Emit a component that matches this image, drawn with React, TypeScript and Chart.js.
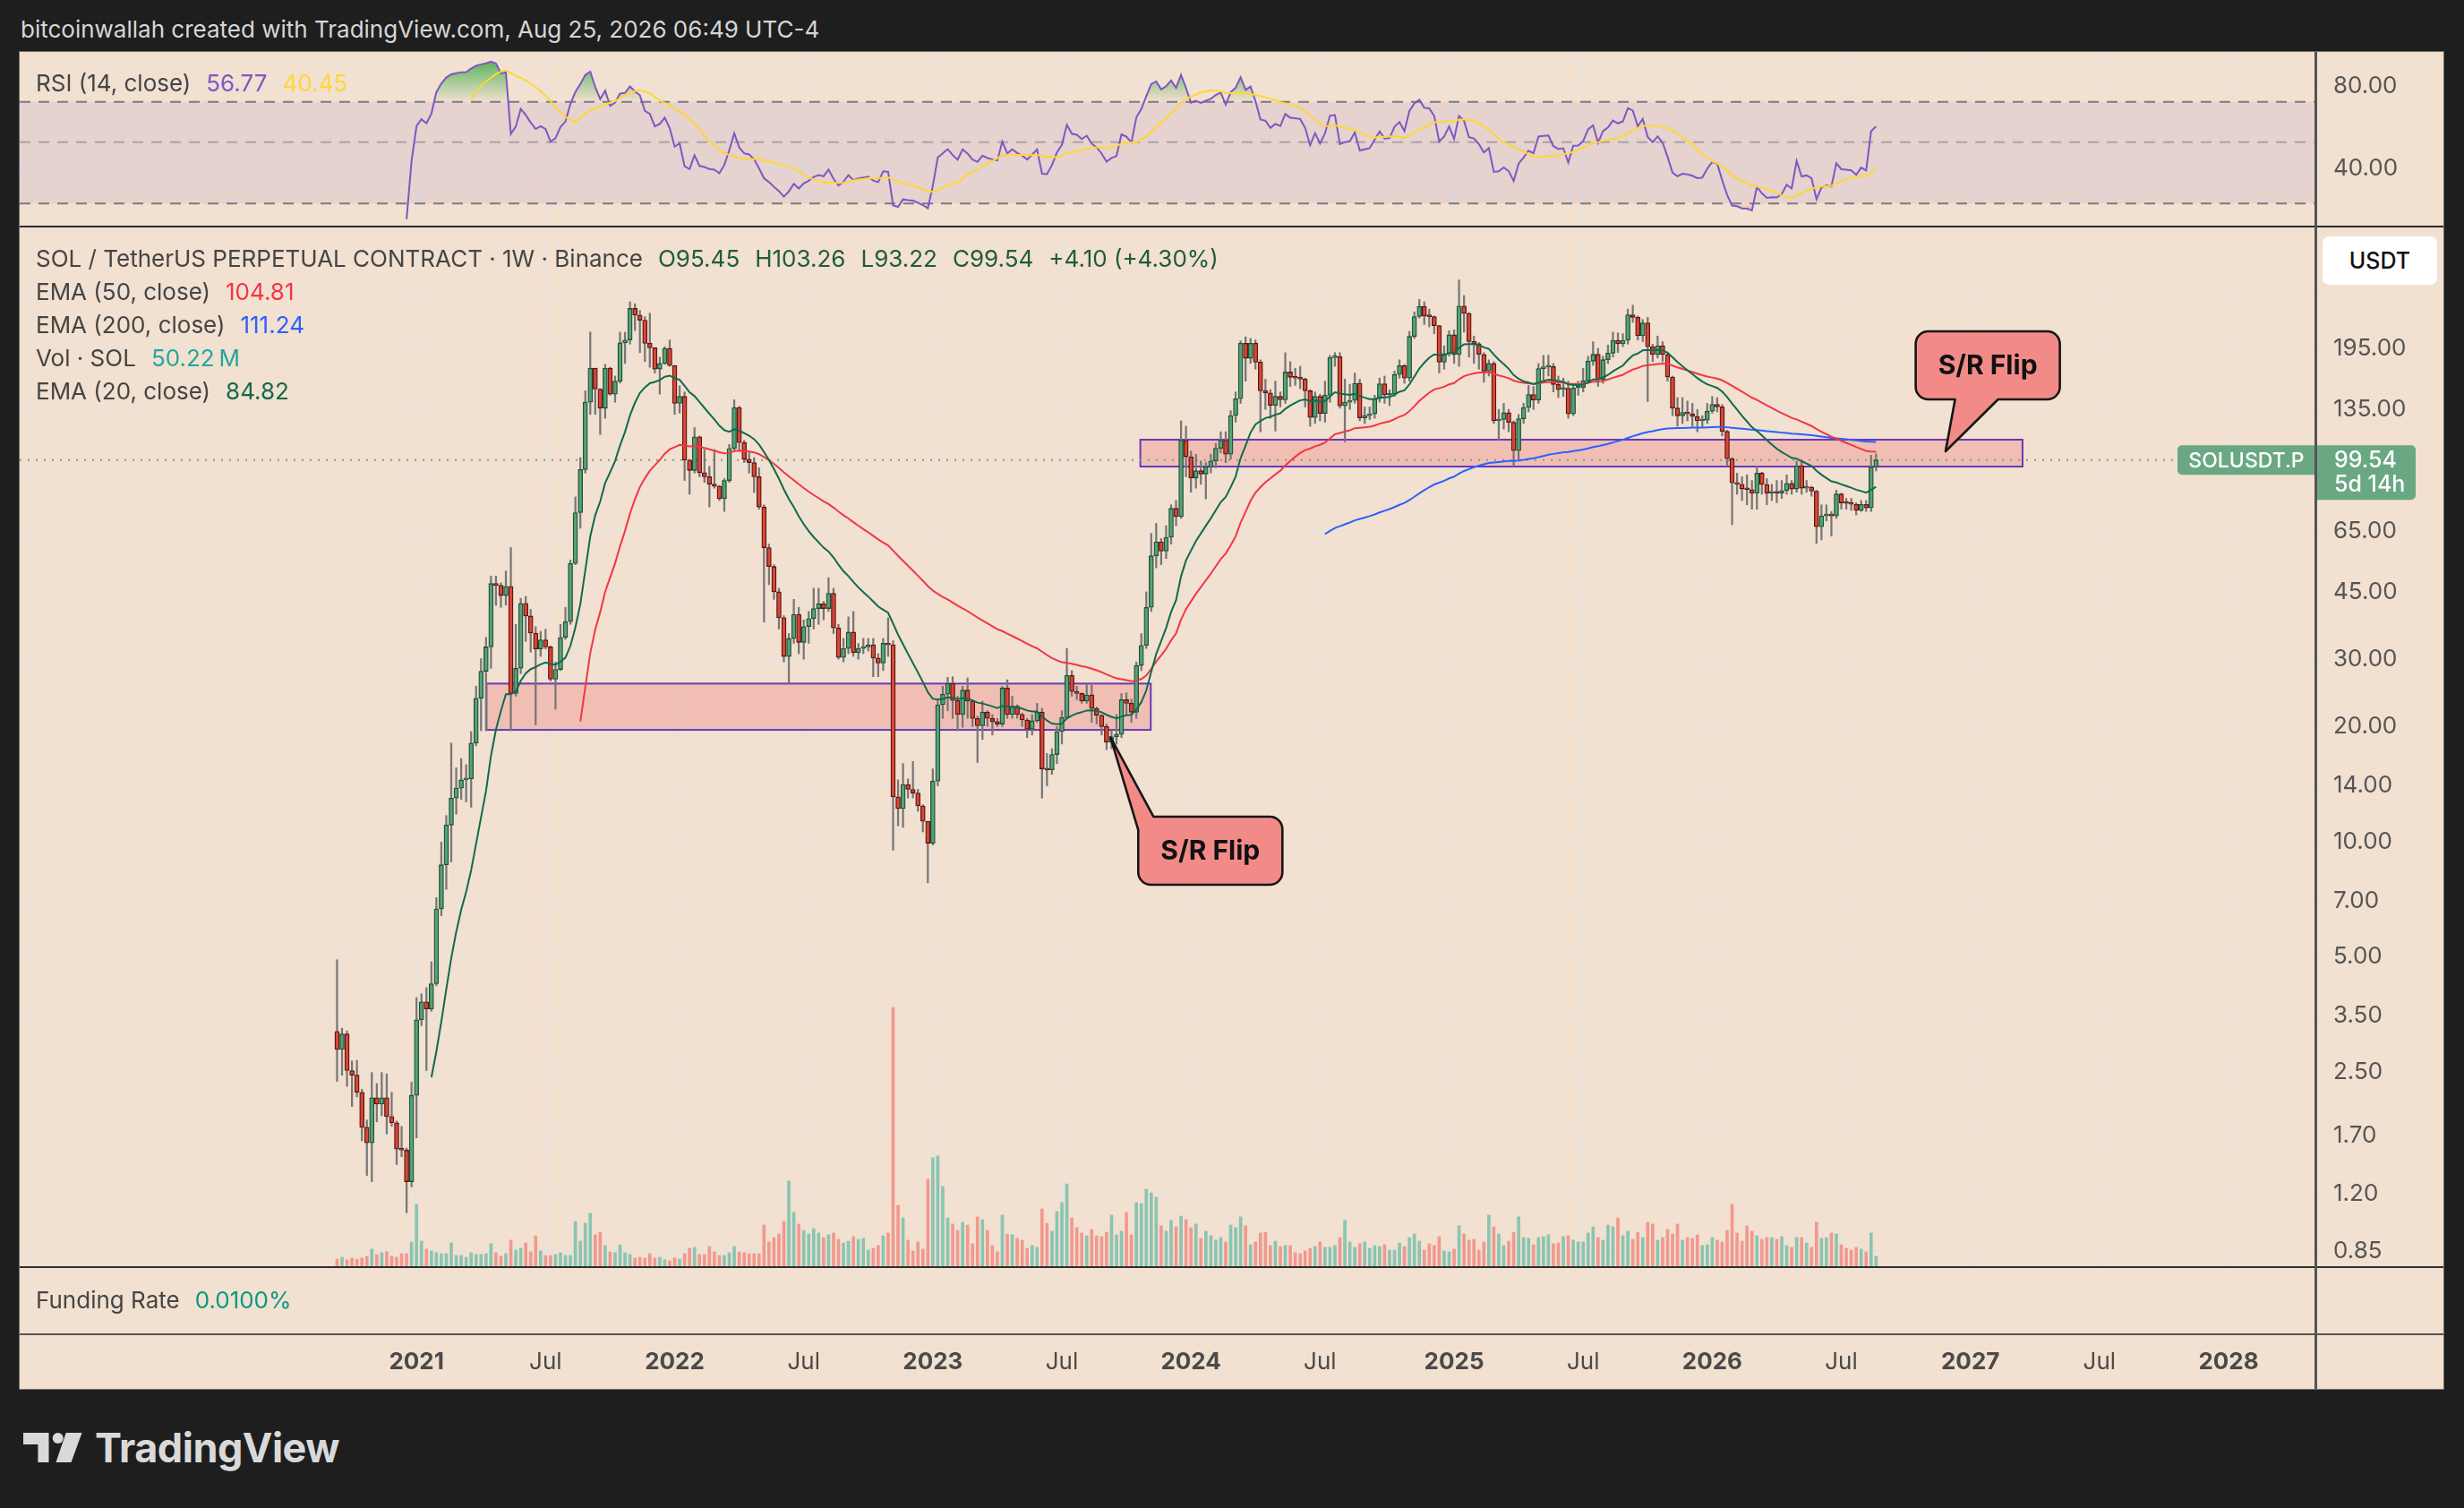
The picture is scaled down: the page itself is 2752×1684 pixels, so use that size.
import React, { useEffect, useRef } from 'react';
import { Chart, registerables } from 'chart.js';

Chart.register(...registerables);

const FONT = 'Inter, "Noto Sans", "Liberation Sans", sans-serif';

// ---- Weekly candles, index 0 = week of 14 Sep 2020 ----
const opens = [
  3.19, 2.86, 3.14, 2.52, 2.45, 2.21, 1.79, 1.63, 2.14, 2.06,
  2.14, 1.91, 1.84, 1.57, 1.56, 1.29, 2.17, 3.42, 3.81, 3.65,
  4.25, 6.67, 8.7, 11.05, 13.0, 13.8, 14.5, 14.6, 18.1, 23.7,
  27.9, 32.3, 47.3, 46.8, 44.0, 46.5, 24.4, 28.4, 42.0, 38.9,
  35.1, 31.9, 33.7, 32.3, 26.6, 28.2, 34.2, 37.6, 53.4, 72.5,
  94.0, 141, 173, 152.6, 136, 173, 148, 160, 201.5, 205,
  248, 238, 231, 201, 195.6, 172, 178, 195, 175.8, 140,
  146, 99.5, 93.5, 114.5, 92.2, 90, 86.1, 85, 78.8, 88,
  106.7, 136.5, 110.6, 100, 98, 90, 75, 58.7, 52.4, 45,
  38.5, 30.5, 34.0, 39.3, 33.2, 36.5, 38.3, 40.7, 41.9, 40.7,
  44.6, 36.2, 30.3, 32, 35.3, 31.2, 32, 32.3, 32.7, 30.2,
  29.3, 33.0, 32.7, 13.1, 12.2, 14.1, 13.7, 13.4, 12.4, 11.3,
  9.9, 14.4, 22.8, 24.3, 25.9, 23.4, 21.5, 24.9, 23.3, 21.0,
  20.1, 21.8, 21.0, 20.6, 20.3, 25.2, 21.5, 22.6, 21.5, 20.8,
  19.7, 20.7, 21.8, 15.5, 15.4, 16.9, 19.4, 21.1, 27.2, 24.7,
  24.4, 23.3, 24.2, 22.3, 21.4, 20.0, 18.2, 18.8, 19.1, 23.5,
  23.0, 21.8, 28.9, 32.6, 41.0, 55.9, 60.8, 57.5, 62.5, 74.4,
  70.8, 112, 101.5, 89.3, 93.3, 91.5, 95.5, 99, 106.8, 112,
  103.1, 130.1, 144, 201, 183.7, 201, 179.5, 151, 149, 138.3,
  146, 143, 169.1, 163.8, 163, 162, 151, 128.6, 146, 131.8,
  147, 184.4, 185.5, 138, 141, 142.5, 158, 128.3, 130, 131.5,
  144, 157.6, 147.3, 148, 166.6, 175.8, 163, 209.5, 236.1, 251,
  237, 236, 223.6, 179.4, 189, 211.5, 187.9, 251.5, 240.6, 203.2,
  200.4, 188, 170, 178, 126, 127, 132.3, 124.9, 105.3, 127.6,
  136.6, 147.6, 142.9, 172.6, 174.2, 174.8, 156.9, 152.2, 153.3, 131.4,
  153.6, 154, 160.3, 180.5, 188.1, 161.5, 182.1, 189.5, 204.7, 200.4,
  204.7, 238.5, 235.1, 210.3, 227.2, 196.8, 187.8, 198.2, 187.8, 164.1,
  136.1, 129.9, 132.5, 131.4, 129.4, 126, 126.5, 133.5, 139.1, 137.1,
  118.3, 100.3, 86.8, 86, 83.6, 83.3, 81.5, 92, 85.9, 81.5,
  81.8, 81.5, 82.8, 86.4, 83.6, 96.2, 84.0, 84.5, 82.5, 66.6,
  71.1, 71.9, 71.1, 81.1, 76.9, 76.6, 76.2, 73.5, 76.2, 74.6,
  95.45,
];

const highs = [
  4.91, 3.25, 3.2, 2.67, 2.68, 2.25, 1.87, 2.49, 2.33, 2.49,
  2.47, 2.21, 1.86, 1.80, 1.58, 2.35, 3.91, 4.0, 4.15, 4.85,
  7.14, 9.97, 11.7, 18.1, 15.6, 16.5, 15.9, 19.4, 25.5, 30.1,
  34.2, 49.5, 49.5, 47.5, 51.0, 58.8, 37.0, 43.3, 43.8, 40.5,
  36.5, 35.5, 35.9, 32.5, 29.5, 37.0, 41.0, 54.5, 79.7, 101,
  151, 215, 173, 153, 177, 174, 165, 215, 215, 258,
  255, 245, 236, 241, 196, 185, 197, 205, 176, 155.6,
  150, 100, 121, 115, 106, 95.8, 106, 85.5, 89, 109.3,
  143, 137.5, 112, 104, 101, 95, 76, 60, 53, 46,
  39, 35, 43, 41, 38, 40, 46, 46, 42.5, 49,
  46, 37, 34, 38.7, 40, 33, 34, 34, 34, 31,
  34, 38.5, 33.5, 14.5, 16, 14.6, 16.2, 13.7, 12.5, 11.3,
  15.5, 23.5, 25.5, 26.9, 27, 24, 25.5, 26.8, 23.5, 21.3,
  23.3, 22, 21.5, 21, 25.5, 26.5, 24, 22.8, 21.7, 21,
  21.5, 23, 22.3, 17, 17.5, 20, 22, 32, 28, 25.5,
  24.5, 25.8, 26, 22.5, 21.5, 20.3, 19.5, 21.5, 24.4, 24.5,
  23.6, 29.5, 35, 45, 64, 68, 62, 67, 76, 78,
  126, 122, 105, 103, 99, 98, 103, 110, 118, 118,
  134, 150, 204, 209, 207, 205, 182, 162, 152, 160,
  150, 190, 180, 173, 175, 163, 152, 150, 148, 160,
  187, 190, 190, 162, 157, 168, 162, 137, 137, 147,
  163, 165, 152, 170, 182, 177, 216, 243, 262, 258,
  247, 237, 224, 198, 217, 218, 294.3, 268, 242, 210,
  202, 190, 182, 180, 135, 140, 135, 126, 131, 140,
  156, 155, 178, 187, 187, 178, 165, 163, 160, 157,
  160, 173, 186, 203, 195, 186, 199, 215, 214, 213,
  247, 253, 237, 232, 235, 200, 210, 203, 190, 165,
  145, 145, 142, 140, 135, 130, 140, 146, 145, 139,
  119, 101, 92, 90, 91, 88, 96, 92.5, 89, 86,
  88, 88, 91, 88, 99, 99, 88, 85, 83, 76,
  76, 73, 83, 81.5, 79, 79, 77, 78, 78, 102.5,
  103.26,
];

const lows = [
  2.36, 2.45, 2.29, 2.03, 2.15, 1.65, 1.34, 1.29, 1.85, 1.92,
  1.72, 1.80, 1.43, 1.50, 1.07, 1.25, 1.68, 3.3, 2.52, 3.6,
  4.2, 6.4, 7.5, 8.85, 11.8, 12.9, 12.7, 12.3, 17.8, 19.5,
  19.5, 28.4, 41.5, 41.0, 41.5, 19.5, 24.0, 27.5, 33.4, 31.3,
  20.2, 30.5, 31.9, 26.3, 22.2, 28.0, 33.8, 37.0, 53.0, 66,
  92, 131, 131, 116, 128, 147, 141, 158, 178, 200,
  217, 190, 180, 174, 168, 148, 177, 175, 131, 132,
  88, 81, 92, 90, 87, 75, 84, 78, 73, 87,
  105, 105, 98, 92, 81.8, 74, 37.5, 47, 43, 36,
  29.5, 25.9, 33, 31, 30, 33, 36, 37, 38, 40,
  35, 30, 29.5, 31, 30.5, 30, 31, 31.5, 27, 27,
  28, 30.5, 9.5, 11, 10.9, 13, 13, 12, 10.6, 7.8,
  9.8, 14, 21, 22, 21, 19.5, 19.9, 21, 20, 16.1,
  18.5, 20, 19, 20, 20, 21, 21, 21, 20, 18.7,
  19, 20.5, 13, 14, 15, 16, 18, 21, 24, 23.5,
  23, 23, 20.5, 20.3, 19, 17.4, 17.5, 18, 18.7, 21.5,
  20.5, 21, 28, 32, 40, 52, 53, 55, 60, 67,
  70, 90, 82, 84, 86, 78.7, 92, 95, 104, 98,
  100, 125, 140, 160, 178, 172, 118, 135, 128, 118.5,
  137, 140, 155, 156, 153, 137, 122, 124, 126, 125,
  141, 175, 136, 111, 135, 140, 126, 124, 127, 128,
  141, 140, 138, 146, 163, 158, 160, 207, 234, 225,
  222, 213, 168, 172, 186, 178, 175, 215, 185, 178,
  172, 159, 165, 124, 112, 120, 118, 95.9, 100, 124,
  133, 135, 140, 160, 165, 150, 145, 146, 128, 130,
  147, 150, 158, 176, 155, 158, 178, 185, 190, 197,
  200, 228, 205, 203, 141.6, 180, 184, 180, 160, 130,
  122, 124, 126, 122, 118, 121, 124, 132, 133, 115,
  96, 67.4, 81, 78, 76, 74, 74, 81, 76, 78,
  77, 79, 81, 81, 82, 81, 82, 80, 60.3, 61.5,
  69, 63, 70, 74, 74, 73.5, 71.5, 73, 73, 73,
  93.22,
];

const closes = [
  2.86, 3.14, 2.52, 2.45, 2.21, 1.79, 1.63, 2.14, 2.06, 2.14,
  1.91, 1.84, 1.57, 1.56, 1.29, 2.17, 3.42, 3.81, 3.65, 4.25,
  6.67, 8.7, 11.05, 13.0, 13.8, 14.5, 14.6, 18.1, 23.7, 27.9,
  32.3, 47.3, 46.8, 44.0, 46.5, 24.4, 28.4, 42.0, 38.9, 35.1,
  31.9, 33.7, 32.3, 26.6, 28.2, 34.2, 37.6, 53.4, 72.5, 94.0,
  141, 173, 152.6, 136, 173, 148, 160, 201.5, 205, 248,
  238, 231, 201, 195.6, 172, 178, 195, 175.8, 140, 146,
  99.5, 93.5, 114.5, 92.2, 90, 86.1, 85, 78.8, 88, 106.7,
  136.5, 110.6, 100, 98, 90, 75, 58.7, 52.4, 45, 38.5,
  30.5, 34.0, 39.3, 33.2, 36.5, 38.3, 40.7, 41.9, 40.7, 44.6,
  36.2, 30.3, 32, 35.3, 31.2, 32, 32.3, 32.7, 30.2, 29.3,
  33.0, 32.7, 13.1, 12.2, 14.1, 13.7, 13.4, 12.4, 11.3, 9.9,
  14.4, 22.8, 24.3, 25.9, 23.4, 21.5, 24.9, 23.3, 21.0, 20.1,
  21.8, 21.0, 20.6, 20.3, 25.2, 21.5, 22.6, 21.5, 20.8, 19.7,
  20.7, 21.8, 15.5, 15.4, 16.9, 19.4, 21.1, 27.2, 24.7, 24.4,
  23.3, 24.2, 22.3, 21.4, 20.0, 18.2, 18.8, 19.1, 23.5, 23.0,
  21.8, 28.9, 32.6, 41.0, 55.9, 60.8, 57.5, 62.5, 74.4, 70.8,
  112, 101.5, 89.3, 93.3, 91.5, 95.5, 99, 106.8, 112, 103.1,
  130.1, 144, 201, 183.7, 201, 179.5, 151, 149, 138.3, 146,
  143, 169.1, 163.8, 163, 162, 151, 128.6, 146, 131.8, 147,
  184.4, 185.5, 138, 141, 142.5, 158, 128.3, 130, 131.5, 144,
  157.6, 147.3, 148, 166.6, 175.8, 163, 209.5, 236.1, 251, 237,
  236, 223.6, 179.4, 189, 211.5, 187.9, 251.5, 240.6, 203.2, 200.4,
  188, 170, 178, 126, 127, 132.3, 124.9, 105.3, 127.6, 136.6,
  147.6, 142.9, 172.6, 174.2, 174.8, 156.9, 152.2, 153.3, 131.4, 153.6,
  154, 160.3, 180.5, 188.1, 161.5, 182.1, 189.5, 204.7, 200.4, 204.7,
  238.5, 235.1, 210.3, 227.2, 196.8, 187.8, 198.2, 187.8, 164.1, 136.1,
  129.9, 132.5, 131.4, 129.4, 126, 126.5, 133.5, 139.1, 137.1, 118.3,
  100.3, 86.8, 86, 83.6, 83.3, 81.5, 92, 85.9, 81.5, 81.8,
  81.5, 82.8, 86.4, 83.6, 96.2, 84.0, 84.5, 82.5, 66.6, 71.1,
  71.9, 71.1, 81.1, 76.9, 76.6, 76.2, 73.5, 76.2, 74.6, 95.45,
  99.54,
];

// Weekly volume, millions of SOL
const volumes = [
  36, 45, 32, 41, 36, 41, 50, 86, 59, 68, 72, 50, 45, 63, 63, 122,
  311, 126, 86, 77, 68, 63, 63, 117, 54, 54, 45, 68, 59, 59, 63, 113,
  68, 50, 63, 131, 81, 90, 117, 72, 153, 77, 54, 54, 59, 68, 54, 54,
  225, 126, 216, 266, 158, 171, 104, 72, 68, 108, 68, 59, 41, 45, 41, 63,
  41, 45, 32, 27, 41, 36, 63, 90, 95, 59, 59, 99, 72, 54, 54, 68,
  99, 72, 68, 63, 63, 63, 207, 122, 144, 162, 225, 428, 270, 212, 180, 162,
  189, 167, 144, 158, 167, 135, 117, 126, 149, 135, 140, 81, 90, 104, 153, 167,
  1301, 306, 243, 131, 77, 122, 86, 437, 545, 554, 401, 243, 212, 180, 221, 207,
  113, 248, 234, 180, 104, 72, 257, 162, 158, 140, 131, 90, 104, 95, 288, 216,
  176, 275, 320, 414, 243, 194, 167, 153, 185, 153, 149, 171,
  257, 158, 176, 270, 158, 320, 315, 387, 369, 347, 203, 176, 230, 198, 252, 234,
  194, 212, 140, 176, 153, 131, 144, 122, 207, 194, 248, 203, 108, 122, 167, 171,
  104, 126, 99, 104, 104, 68, 63, 77, 90, 99, 122, 95, 95, 104, 144, 230,
  122, 95, 113, 122, 90, 104, 99, 108, 81, 81, 117, 99, 144, 162, 126, 81,
  113, 104, 149, 77, 72, 86, 203, 162, 131, 135, 81, 122, 257, 198, 162, 104,
  126, 171, 248, 144, 140, 108, 144, 149, 158, 113, 117, 149, 153, 131, 122, 122,
  167, 198, 144, 131, 207, 198, 243, 153, 176, 135, 171, 144, 221, 212, 131, 144,
  185, 162, 212, 131, 144, 140, 158, 104, 108, 144, 131, 122, 180, 311, 167, 126,
  203, 176, 153, 135, 144, 144, 135, 149, 104, 95, 144, 144, 117, 95, 221, 140,
  144, 167, 162, 108, 90, 81, 95, 86, 72, 167, 50.22,
];

// Time axis (week index of first bar of each labelled month)
const xTickWeeks = [16, 42, 68, 94, 120, 146, 172, 198, 225, 251, 277, 303, 329, 355, 381];
const xTickLabels = ['2021', 'Jul', '2022', 'Jul', '2023', 'Jul', '2024', 'Jul', '2025', 'Jul', '2026', 'Jul', '2027', 'Jul', '2028'];

// Price axis ticks (log scale)
const priceTicks = [275, 195, 135, 95, 65, 45, 30, 20, 14, 10, 7, 5, 3.5, 2.5, 1.7, 1.2, 0.85];
const hiddenPriceLabels = [275, 95];
const rsiTicks = [40, 80];
const rsiBands = [70, 50, 30];

// Drawings (data coordinates: week index / price)
const srZones = [
  { from: 30.1, to: 163.9, low: 19.6, high: 25.9 },
  { from: 161.8, to: 339.5, low: 95.7, high: 112.5 },
];
const callouts = [
  { text: 'S/R Flip', tipX: 155.8, tipY: 18.75, cx: 175.9, cy: 9.47, pointer: 'topleft' },
  { text: 'S/R Flip', tipX: 324.0, tipY: 104.9, cx: 332.5, cy: 176.0, pointer: 'bottom' },
];

// ---- layout / style constants ----
const X_MIN = -63.93, X_MAX = 398.49;
const P_MIN = 0.7756, P_MAX = 403.8;
const R_MIN = 24.91, R_MAX = 106.3;
const VOL_MAX = 5222;
const AXIS_W = 143;

const BG = '#1e1e1e';
const PANE = '#f2e0d0';
const GRID = '#e7e2dd';
const TEXT = '#454545';
const AXIS_TEXT = '#555555';
const UP_FILL = '#58a07a', UP_BORDER = '#1c5535';
const DN_FILL = '#d8473a', DN_BORDER = '#5a1710';
const WICK = '#777777';
const VOL_UP = '#89c5b2', VOL_DN = '#f1998f';
const LAST_GREEN = '#6aa884';

function emaSeries(src: number[], len: number) {
  const out: (number | null)[] = src.map(() => null);
  let s = 0;
  for (let i = 0; i < len; i++) s += src[i];
  let prev = s / len;
  out[len - 1] = prev;
  const a = 2 / (len + 1);
  for (let i = len; i < src.length; i++) {
    prev = a * src[i] + (1 - a) * prev;
    out[i] = prev;
  }
  return out;
}

function rsiSeries(src: number[], len: number) {
  const out: (number | null)[] = src.map(() => null);
  let g = 0, l = 0;
  for (let i = 1; i <= len; i++) {
    const d = src[i] - src[i - 1];
    g += Math.max(d, 0);
    l += Math.max(-d, 0);
  }
  let ag = g / len, al = l / len;
  out[len] = al === 0 ? 100 : 100 - 100 / (1 + ag / al);
  for (let i = len + 1; i < src.length; i++) {
    const d = src[i] - src[i - 1];
    ag = (ag * (len - 1) + Math.max(d, 0)) / len;
    al = (al * (len - 1) + Math.max(-d, 0)) / len;
    out[i] = al === 0 ? 100 : 100 - 100 / (1 + ag / al);
  }
  return out;
}

function smaSeries(src: (number | null)[], len: number) {
  return src.map((_, i) => {
    if (i < len - 1) return null;
    let s = 0;
    for (let j = i - len + 1; j <= i; j++) {
      const v = src[j];
      if (v == null) return null;
      s += v;
    }
    return s / len;
  });
}

const toXY = (arr: (number | null)[]) =>
  arr.map((v, i) => (v == null ? null : { x: i, y: v })).filter(Boolean);

function roundRect(ctx: any, x: number, y: number, w: number, h: number, r: number[]) {
  const [tl, tr, br, bl] = r;
  ctx.beginPath();
  ctx.moveTo(x + tl, y);
  ctx.lineTo(x + w - tr, y);
  ctx.arcTo(x + w, y, x + w, y + tr, tr);
  ctx.lineTo(x + w, y + h - br);
  ctx.arcTo(x + w, y + h, x + w - br, y + h, br);
  ctx.lineTo(x + bl, y + h);
  ctx.arcTo(x, y + h, x, y + h - bl, bl);
  ctx.lineTo(x, y + tl);
  ctx.arcTo(x, y, x + tl, y, tl);
  ctx.closePath();
}

// fixed-size axes: no extra layout padding from the tick labels
const fitRight = (s: any) => { s.width = AXIS_W; s.paddingTop = 0; s.paddingBottom = 0; s.paddingLeft = 0; s.paddingRight = 0; };

const xAxisHidden = () => ({
  type: 'linear',
  min: X_MIN,
  max: X_MAX,
  bounds: 'data',
  offset: false,
  afterBuildTicks: (s: any) => { s.ticks = xTickWeeks.map((v) => ({ value: v })); },
  afterFit: (s: any) => { s.height = 0; s.paddingLeft = 0; s.paddingRight = 0; s.paddingTop = 0; s.paddingBottom = 0; },
  ticks: { display: false, padding: 0 },
  grid: { color: GRID, lineWidth: 2, drawTicks: false, offset: false },
  border: { display: false },
});

const rsiPlugin = {
  id: 'rsiBands',
  beforeDatasetsDraw(chart: any) {
    const { ctx, chartArea: a, scales } = chart;
    const y = scales.y;
    ctx.save();
    const y70 = y.getPixelForValue(rsiBands[0]);
    const y50 = y.getPixelForValue(rsiBands[1]);
    const y30 = y.getPixelForValue(rsiBands[2]);
    ctx.fillStyle = 'rgba(126,87,194,0.1)';
    ctx.fillRect(a.left, y70, a.right - a.left, y30 - y70);
    ctx.setLineDash([12, 9]);
    ctx.lineWidth = 2;
    ctx.strokeStyle = '#787b86';
    for (const yy of [y70, y30]) {
      ctx.beginPath(); ctx.moveTo(a.left, yy); ctx.lineTo(a.right, yy); ctx.stroke();
    }
    ctx.strokeStyle = 'rgba(120,123,134,0.55)';
    ctx.beginPath(); ctx.moveTo(a.left, y50); ctx.lineTo(a.right, y50); ctx.stroke();
    ctx.restore();
  },
};

const mainPlugin = {
  id: 'mainDeco',
  beforeDatasetsDraw(chart: any) {
    const { ctx, chartArea: a, scales } = chart;
    const x = scales.x, y = scales.y;
    ctx.save();
    ctx.beginPath();
    ctx.rect(a.left, a.top, a.right - a.left, a.bottom - a.top);
    ctx.clip();
    for (const z of srZones) {
      const x0 = x.getPixelForValue(z.from), x1 = x.getPixelForValue(z.to);
      const y0 = y.getPixelForValue(z.high), y1 = y.getPixelForValue(z.low);
      ctx.fillStyle = 'rgba(242,54,69,0.2)';
      ctx.fillRect(x0, y0, x1 - x0, y1 - y0);
      ctx.strokeStyle = '#673ab7';
      ctx.lineWidth = 2;
      ctx.strokeRect(x0, y0, x1 - x0, y1 - y0);
    }
    // last price dotted line
    const last = closes[closes.length - 1];
    const yp = y.getPixelForValue(last);
    ctx.setLineDash([2, 7]);
    ctx.strokeStyle = LAST_GREEN;
    ctx.lineWidth = 2;
    ctx.beginPath(); ctx.moveTo(a.left, yp); ctx.lineTo(a.right - 154, yp); ctx.stroke();
    ctx.restore();
  },
  afterDatasetsDraw(chart: any) {
    const { ctx, scales } = chart;
    const x = scales.x, y = scales.y;
    for (const c of callouts) {
      const tx = x.getPixelForValue(c.tipX), ty = y.getPixelForValue(c.tipY);
      const cx = x.getPixelForValue(c.cx), cy = y.getPixelForValue(c.cy);
      const w = 161, h = 76, r = 14;
      const L = cx - w / 2, R = cx + w / 2, T = cy - h / 2, B = cy + h / 2;
      ctx.save();
      ctx.beginPath();
      if (c.pointer === 'topleft') {
        ctx.moveTo(L + 17, T);
        ctx.lineTo(R - r, T); ctx.arcTo(R, T, R, T + r, r);
        ctx.lineTo(R, B - r); ctx.arcTo(R, B, R - r, B, r);
        ctx.lineTo(L + r, B); ctx.arcTo(L, B, L, B - r, r);
        ctx.lineTo(L, T + 15);
        ctx.lineTo(tx, ty);
        ctx.closePath();
      } else {
        ctx.moveTo(L + r, T);
        ctx.lineTo(R - r, T); ctx.arcTo(R, T, R, T + r, r);
        ctx.lineTo(R, B - r); ctx.arcTo(R, B, R - r, B, r);
        ctx.lineTo(L + 92, B);
        ctx.lineTo(tx, ty);
        ctx.lineTo(L + 44, B);
        ctx.lineTo(L + r, B); ctx.arcTo(L, B, L, B - r, r);
        ctx.lineTo(L, T + r); ctx.arcTo(L, T, L + r, T, r);
        ctx.closePath();
      }
      ctx.fillStyle = '#f28b88';
      ctx.fill();
      ctx.lineJoin = 'round';
      ctx.strokeStyle = '#161616';
      ctx.lineWidth = 2.6;
      ctx.stroke();
      ctx.fillStyle = '#111111';
      ctx.font = `700 30px ${FONT}`;
      ctx.textAlign = 'center';
      ctx.textBaseline = 'middle';
      ctx.fillText(c.text, cx, cy + 1);
      ctx.restore();
    }
  },
  afterDraw(chart: any) {
    const { ctx, chartArea: a, scales } = chart;
    const y = scales.y;
    const last = closes[closes.length - 1];
    const yp = y.getPixelForValue(last);
    ctx.save();
    ctx.fillStyle = LAST_GREEN;
    roundRect(ctx, a.right - 154, yp - 16.5, 154, 33, [5, 0, 0, 5]);
    ctx.fill();
    ctx.fillStyle = '#ffffff';
    ctx.font = `500 23px ${FONT}`;
    ctx.textAlign = 'center';
    ctx.textBaseline = 'middle';
    ctx.fillText('SOLUSDT.P', a.right - 77, yp + 1);
    ctx.fillStyle = LAST_GREEN;
    roundRect(ctx, a.right + 1, yp - 16.5, 111, 61, [0, 5, 5, 0]);
    ctx.fill();
    ctx.fillStyle = '#ffffff';
    ctx.textAlign = 'left';
    ctx.font = `500 25px ${FONT}`;
    ctx.fillText(last.toFixed(2), a.right + 21, yp + 1);
    ctx.fillText('5d 14h', a.right + 21, yp + 28);
    ctx.restore();
  },
};

export default function App() {
  const rsiRef = useRef<HTMLCanvasElement>(null);
  const mainRef = useRef<HTMLCanvasElement>(null);
  const botRef = useRef<HTMLCanvasElement>(null);

  useEffect(() => {
    document.body.style.margin = '0';
    document.body.style.background = BG;
    Chart.defaults.font.family = FONT;

    const ema20 = emaSeries(closes, 20);
    const ema50 = emaSeries(closes, 50);
    const ema200 = emaSeries(closes, 200);
    const rsi = rsiSeries(closes, 14);
    const rsiMa = smaSeries(rsi, 14);
    const isUp = closes.map((c, i) => c >= opens[i]);

    const charts: Chart[] = [];

    // ---- RSI pane ----
    charts.push(new Chart(rsiRef.current as HTMLCanvasElement, {
      type: 'line',
      data: {
        datasets: [
          {
            data: toXY(rsi) as any,
            borderColor: '#7e57c2',
            borderWidth: 2,
            pointRadius: 0,
            fill: { target: { value: 70 }, below: 'rgba(0,0,0,0)' } as any,
            backgroundColor: (c: any) => {
              const ch = c.chart;
              if (!ch.chartArea || !ch.scales.y) return 'rgba(0,0,0,0)';
              const g = ch.ctx.createLinearGradient(0, ch.scales.y.getPixelForValue(100), 0, ch.scales.y.getPixelForValue(70));
              g.addColorStop(0, 'rgba(76,175,80,0.95)');
              g.addColorStop(1, 'rgba(76,175,80,0)');
              return g;
            },
            order: 1,
          },
          {
            data: toXY(rsi) as any,
            borderWidth: 0,
            borderColor: 'rgba(0,0,0,0)',
            pointRadius: 0,
            fill: { target: { value: 30 }, above: 'rgba(0,0,0,0)' } as any,
            backgroundColor: (c: any) => {
              const ch = c.chart;
              if (!ch.chartArea || !ch.scales.y) return 'rgba(0,0,0,0)';
              const g = ch.ctx.createLinearGradient(0, ch.scales.y.getPixelForValue(30), 0, ch.scales.y.getPixelForValue(25));
              g.addColorStop(0, 'rgba(242,54,69,0)');
              g.addColorStop(1, 'rgba(242,54,69,0.9)');
              return g;
            },
            order: 2,
          },
          {
            data: toXY(rsiMa) as any,
            borderColor: '#fdd835',
            borderWidth: 2,
            pointRadius: 0,
            fill: false,
            order: 0,
          },
        ],
      },
      options: {
        responsive: false,
        animation: false,
        events: [],
        layout: { padding: 0 },
        plugins: { legend: { display: false }, tooltip: { enabled: false } },
        scales: {
          x: xAxisHidden() as any,
          y: {
            type: 'logarithmic',
            position: 'right',
            min: R_MIN,
            max: R_MAX,
            bounds: 'data',
            afterBuildTicks: (s: any) => { s.ticks = rsiTicks.map((v) => ({ value: v })); },
            afterFit: fitRight,
            ticks: { callback: (v: any) => Number(v).toFixed(2), color: AXIS_TEXT, font: { size: 26 }, padding: 20 },
            grid: { color: GRID, lineWidth: 2, drawTicks: false },
            border: { display: false },
          } as any,
        },
      },
      plugins: [rsiPlugin],
    }));

    // ---- Main price pane ----
    charts.push(new Chart(mainRef.current as HTMLCanvasElement, {
      type: 'bar',
      data: {
        datasets: [
          { type: 'line', data: toXY(ema20) as any, borderColor: '#0e6b4c', borderWidth: 2, pointRadius: 0, yAxisID: 'y', order: 0 } as any,
          { type: 'line', data: toXY(ema50) as any, borderColor: '#f23645', borderWidth: 2, pointRadius: 0, yAxisID: 'y', order: 0 } as any,
          { type: 'line', data: toXY(ema200) as any, borderColor: '#2962ff', borderWidth: 2, pointRadius: 0, yAxisID: 'y', order: 0 } as any,
          {
            type: 'bar',
            data: closes.map((c, i) => ({ x: i, y: [Math.min(opens[i], c), Math.max(opens[i], c)] })) as any,
            backgroundColor: isUp.map((u) => (u ? UP_FILL : DN_FILL)),
            borderColor: isUp.map((u) => (u ? UP_BORDER : DN_BORDER)),
            borderWidth: 1.3,
            borderSkipped: false,
            barThickness: 5,
            minBarLength: 2,
            grouped: false,
            yAxisID: 'y',
            order: 1,
          } as any,
          {
            type: 'bar',
            data: highs.map((h, i) => ({ x: i, y: [lows[i], h] })) as any,
            backgroundColor: WICK,
            barThickness: 1.6,
            grouped: false,
            yAxisID: 'y',
            order: 2,
          } as any,
          {
            type: 'bar',
            data: volumes.map((v, i) => ({ x: i, y: v })) as any,
            backgroundColor: isUp.map((u) => (u ? VOL_UP : VOL_DN)),
            barThickness: 3,
            grouped: false,
            yAxisID: 'v',
            order: 3,
          } as any,
        ],
      },
      options: {
        responsive: false,
        animation: false,
        events: [],
        layout: { padding: 0 },
        plugins: { legend: { display: false }, tooltip: { enabled: false } },
        scales: {
          x: xAxisHidden() as any,
          y: {
            type: 'logarithmic',
            position: 'right',
            min: P_MIN,
            max: P_MAX,
            bounds: 'data',
            afterBuildTicks: (s: any) => { s.ticks = priceTicks.map((v) => ({ value: v })); },
            afterFit: fitRight,
            ticks: {
              callback: (v: any) => (hiddenPriceLabels.includes(Number(v)) ? '' : Number(v).toFixed(2)),
              color: AXIS_TEXT,
              font: { size: 26 },
              padding: 20,
            },
            grid: { color: GRID, lineWidth: 2, drawTicks: false },
            border: { display: false },
          } as any,
          v: { type: 'linear', display: false, min: 0, max: VOL_MAX } as any,
        },
      },
      plugins: [mainPlugin],
    }));

    // ---- Funding pane + time axis ----
    charts.push(new Chart(botRef.current as HTMLCanvasElement, {
      type: 'line',
      data: { datasets: [] },
      options: {
        responsive: false,
        animation: false,
        events: [],
        layout: { padding: 0 },
        plugins: { legend: { display: false }, tooltip: { enabled: false } },
        scales: {
          x: {
            type: 'linear',
            min: X_MIN,
            max: X_MAX,
            bounds: 'data',
            offset: false,
            afterBuildTicks: (s: any) => { s.ticks = xTickWeeks.map((v) => ({ value: v })); },
            afterFit: (s: any) => { s.height = 61; s.paddingLeft = 0; s.paddingRight = 0; },
            ticks: {
              callback: (v: any) => xTickLabels[xTickWeeks.indexOf(Number(v))] ?? '',
              color: '#4a4a4a',
              font: (c: any) => ({ size: 26, weight: c.tick && /^\d{4}$/.test(String(c.tick.label)) ? 'bold' : 'normal' }),
              padding: 17,
              maxRotation: 0,
              autoSkip: false,
            },
            grid: { display: false, drawTicks: false },
            border: { display: false },
          } as any,
          y: {
            type: 'linear',
            position: 'right',
            min: 0,
            max: 1,
            afterFit: fitRight,
            ticks: { display: false },
            grid: { display: false, drawTicks: false },
            border: { display: false },
          } as any,
        },
      },
    }));

    return () => charts.forEach((c) => c.destroy());
  }, []);

  const abs = (o: any) => ({ position: 'absolute', ...o });
  const row = (top: number) =>
    abs({ left: 40, top: top - 16, height: 32, lineHeight: '32px', fontSize: 26, color: TEXT, whiteSpace: 'nowrap' });
  const gap = { marginLeft: 17 };

  return (
    <div style={{ position: 'fixed', left: 0, top: 0, width: 2752, height: 1684, background: BG, overflow: 'hidden', fontFamily: FONT }}>
      <div style={abs({ left: 23, top: 17, fontSize: 26, lineHeight: '32px', color: '#d6d6d6', whiteSpace: 'nowrap' })}>
        bitcoinwallah created with TradingView.com, Aug 25, 2026 06:49 UTC-4
      </div>

      {/* frame */}
      <div style={abs({ left: 21, top: 57, width: 2709, height: 1495, background: PANE, border: '1px solid #6e6e6e', boxSizing: 'border-box' })} />

      <canvas ref={rsiRef} width={2707} height={194} style={abs({ left: 22, top: 58, width: 2707, height: 194 })} />
      <canvas ref={mainRef} width={2707} height={1160} style={abs({ left: 22, top: 254, width: 2707, height: 1160 })} />
      <canvas ref={botRef} width={2707} height={134} style={abs({ left: 22, top: 1416, width: 2707, height: 134 })} />

      {/* separators */}
      <div style={abs({ left: 22, top: 252, width: 2707, height: 2, background: '#2a2a2a' })} />
      <div style={abs({ left: 22, top: 1414, width: 2707, height: 2, background: '#2e2e2e' })} />
      <div style={abs({ left: 22, top: 1489, width: 2707, height: 2, background: '#555555' })} />
      <div style={abs({ left: 2585, top: 58, width: 3, height: 1493, background: '#555555' })} />

      {/* USDT button */}
      <div style={abs({ left: 2594, top: 264, width: 128, height: 54, background: '#ffffff', borderRadius: 7, textAlign: 'center', lineHeight: '54px', fontSize: 25, color: '#111111', fontWeight: 500 })}>USDT</div>

      {/* legends */}
      <div style={row(93)}>
        <span>RSI (14, close)</span>
        <span style={{ ...gap, color: '#7e57c2' }}>56.77</span>
        <span style={{ ...gap, color: '#fdd835' }}>40.45</span>
      </div>
      <div style={row(289)}>
        <span>SOL / TetherUS PERPETUAL CONTRACT · 1W · Binance</span>
        <span style={{ ...gap, color: '#1f5c3c' }}>O95.45</span>
        <span style={{ ...gap, color: '#1f5c3c' }}>H103.26</span>
        <span style={{ ...gap, color: '#1f5c3c' }}>L93.22</span>
        <span style={{ ...gap, color: '#1f5c3c' }}>C99.54</span>
        <span style={{ ...gap, color: '#1f5c3c' }}>+4.10 (+4.30%)</span>
      </div>
      <div style={row(326)}>
        <span>EMA (50, close)</span>
        <span style={{ ...gap, color: '#f23645' }}>104.81</span>
      </div>
      <div style={row(363)}>
        <span>EMA (200, close)</span>
        <span style={{ ...gap, color: '#2962ff' }}>111.24</span>
      </div>
      <div style={row(400)}>
        <span>Vol · SOL</span>
        <span style={{ ...gap, color: '#26a69a' }}>50.22{'\u2009'}M</span>
      </div>
      <div style={row(437)}>
        <span>EMA (20, close)</span>
        <span style={{ ...gap, color: '#0e6b4c' }}>84.82</span>
      </div>
      <div style={row(1452)}>
        <span>Funding Rate</span>
        <span style={{ ...gap, color: '#089981' }}>0.0100%</span>
      </div>

      {/* TradingView logo */}
      <svg style={abs({ left: 26, top: 1600 })} width={68} height={34} viewBox="0 0 68 34">
        <path d="M0 0 H28.5 V33 H16.4 V13 H0 Z" fill="#d9d9d9" />
        <circle cx={38.7} cy={6} r={6} fill="#d9d9d9" />
        <path d="M47.7 0 H65.5 L53.5 33 H36.5 Z" fill="#d9d9d9" />
      </svg>
      <div style={abs({ left: 106, top: 1592, fontSize: 45, fontWeight: 700, color: '#d9d9d9', letterSpacing: -0.5, lineHeight: '50px' })}>TradingView</div>
    </div>
  );
}
